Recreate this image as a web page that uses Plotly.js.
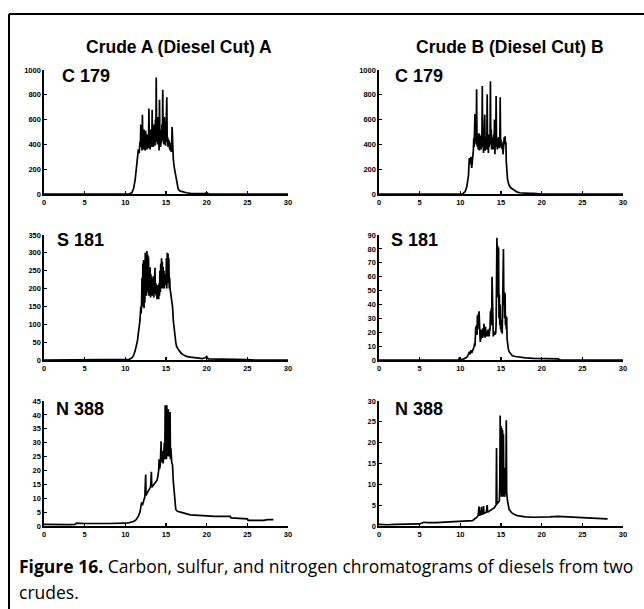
<!DOCTYPE html>
<html>
<head>
<meta charset="utf-8">
<script src="https://cdn.plot.ly/plotly-3.0.1.min.js"></script>
<style>html,body{margin:0;padding:0;background:#fff;}#chart{width:644px;height:609px;}</style>
</head>
<body>
<div id="chart"></div>
<script>
// ---- Data: [retention time (min), detector response] ----
const carbonA = [[0,0],[5,0],[10,0],[10.5,2],[10.8,10],[11.0,40],[11.2,110],[11.4,220],[11.5,300],[11.6,360],[11.7,330],[11.8,420],[11.85,380],[11.9,560],[11.95,400],[12.0,470],[12.05,350],[12.1,640],[12.15,400],[12.2,450],[12.25,360],[12.3,520],[12.35,380],[12.4,420],[12.45,350],[12.5,510],[12.55,370],[12.6,440],[12.65,360],[12.7,480],[12.75,380],[12.8,420],[12.85,370],[12.9,690],[12.95,400],[13.0,460],[13.05,360],[13.1,520],[13.15,390],[13.2,440],[13.25,380],[13.3,680],[13.35,400],[13.4,470],[13.45,380],[13.5,560],[13.55,400],[13.6,460],[13.65,390],[13.7,600],[13.75,420],[13.8,940],[13.85,430],[13.9,500],[13.95,400],[14.0,620],[14.05,420],[14.1,480],[14.15,350],[14.2,760],[14.25,420],[14.3,480],[14.35,380],[14.4,520],[14.45,410],[14.5,560],[14.55,430],[14.6,840],[14.65,440],[14.7,500],[14.75,400],[14.8,620],[14.85,420],[14.9,470],[14.95,390],[15.0,600],[15.05,430],[15.1,780],[15.15,420],[15.2,460],[15.25,380],[15.3,440],[15.35,400],[15.4,430],[15.45,360],[15.5,410],[15.55,350],[15.6,400],[15.65,340],[15.7,390],[15.75,540],[15.8,360],[15.9,280],[16.0,220],[16.1,180],[16.2,170],[16.3,100],[16.4,60],[16.5,40],[16.7,25],[16.9,20],[17.1,18],[17.3,14],[17.5,10],[18,6],[18.5,5],[19,4],[19.5,3],[19.8,4],[20,10],[20.2,2],[21,0],[30,0]];

const carbonB = [[0,0],[5,0],[10,0],[10.3,2],[10.6,20],[10.8,60],[11.0,150],[11.1,290],[11.2,240],[11.3,300],[11.4,210],[11.5,280],[11.6,350],[11.65,450],[11.7,380],[11.75,520],[11.8,645],[11.85,420],[11.9,500],[11.95,400],[12.0,845],[12.05,420],[12.1,380],[12.15,480],[12.2,360],[12.25,460],[12.3,490],[12.35,350],[12.4,470],[12.45,380],[12.5,440],[12.55,360],[12.6,480],[12.65,400],[12.7,870],[12.75,380],[12.8,440],[12.85,330],[12.9,500],[12.95,380],[13.0,640],[13.05,350],[13.1,460],[13.15,380],[13.2,420],[13.25,360],[13.3,805],[13.35,380],[13.4,440],[13.45,330],[13.5,480],[13.55,380],[13.6,460],[13.65,400],[13.7,910],[13.75,420],[13.8,520],[13.85,360],[13.9,460],[13.95,380],[14.0,440],[14.05,360],[14.1,480],[14.15,400],[14.2,600],[14.25,320],[14.3,440],[14.35,380],[14.4,790],[14.45,400],[14.5,450],[14.55,360],[14.6,430],[14.65,380],[14.7,460],[14.75,370],[14.8,420],[14.85,380],[14.9,780],[14.95,400],[15.0,440],[15.05,370],[15.1,420],[15.15,360],[15.2,400],[15.25,320],[15.3,440],[15.35,380],[15.4,460],[15.45,400],[15.5,465],[15.55,400],[15.6,420],[15.65,260],[15.7,180],[15.8,120],[15.9,90],[16.0,70],[16.2,50],[16.4,40],[16.6,28],[16.8,20],[17.0,15],[17.3,10],[17.6,8],[18,6],[18.5,5],[19,5],[19.3,3],[19.6,1],[20,0],[30,0]];

const sulfurA = [[0,0],[5,0],[10,0],[10.5,2],[10.8,6],[11.0,12],[11.2,25],[11.35,38],[11.5,55],[11.6,75],[11.7,90],[11.8,110],[11.9,150],[11.95,130],[12.0,160],[12.05,230],[12.1,150],[12.15,270],[12.2,180],[12.25,280],[12.3,145],[12.35,260],[12.4,160],[12.45,300],[12.5,200],[12.55,290],[12.6,180],[12.65,305],[12.7,210],[12.75,295],[12.8,190],[12.85,290],[12.9,180],[12.95,250],[13.0,190],[13.05,260],[13.1,175],[13.15,240],[13.2,190],[13.25,230],[13.3,180],[13.35,210],[13.4,190],[13.45,235],[13.5,175],[13.55,220],[13.6,190],[13.65,258],[13.7,185],[13.75,215],[13.8,180],[13.85,205],[13.9,170],[13.95,210],[14.0,190],[14.05,200],[14.1,170],[14.15,215],[14.2,180],[14.25,250],[14.3,190],[14.35,270],[14.4,200],[14.45,285],[14.5,210],[14.55,275],[14.6,200],[14.65,260],[14.7,215],[14.75,250],[14.8,200],[14.85,240],[14.9,210],[14.95,235],[15.0,215],[15.05,285],[15.1,200],[15.15,300],[15.2,215],[15.25,298],[15.3,220],[15.35,285],[15.4,200],[15.45,230],[15.5,200],[15.6,185],[15.7,175],[15.8,150],[15.9,110],[16.0,95],[16.1,70],[16.2,50],[16.3,38],[16.5,30],[16.7,22],[16.9,18],[17.1,15],[17.5,10],[18,8],[18.5,6],[19,5],[19.5,4],[19.8,6],[20,10],[20.2,3],[21,3],[22,2],[23,2],[24,2],[24.8,3],[25,1],[26,0],[30,0]];

const sulfurB = [[0,0],[5,0],[9.8,0],[9.9,2],[10.0,0],[10.5,1],[10.8,2],[11.0,4],[11.1,6],[11.2,4],[11.3,7],[11.4,5],[11.5,6],[11.6,8],[11.7,10],[11.75,12],[11.8,10],[11.85,18],[11.9,24],[11.95,20],[12.0,25],[12.05,18],[12.1,32],[12.15,22],[12.2,33],[12.25,28],[12.3,35],[12.35,20],[12.4,14],[12.45,13],[12.5,18],[12.55,15],[12.6,22],[12.65,17],[12.7,21],[12.75,16],[12.8,23],[12.85,17],[12.9,26],[12.95,18],[13.0,22],[13.05,16],[13.1,24],[13.15,18],[13.2,21],[13.25,17],[13.3,20],[13.35,17],[13.4,22],[13.45,18],[13.5,19],[13.55,17],[13.6,23],[13.65,21],[13.7,35],[13.75,28],[13.8,37],[13.85,25],[13.9,60],[13.95,30],[14.0,18],[14.05,17],[14.1,19],[14.15,18],[14.2,20],[14.25,18],[14.3,21],[14.35,19],[14.4,26],[14.45,50],[14.5,88],[14.55,70],[14.6,82],[14.65,45],[14.7,81],[14.75,30],[14.8,47],[14.85,25],[14.9,40],[14.95,22],[15.0,29],[15.05,20],[15.1,24],[15.15,19],[15.2,50],[15.25,30],[15.3,80],[15.35,40],[15.4,49],[15.45,30],[15.5,48],[15.55,25],[15.6,32],[15.65,22],[15.7,31],[15.75,15],[15.8,12],[15.9,8],[16.0,6],[16.2,4],[16.4,3],[16.8,2.5],[17.3,2],[18,1.5],[19,1.2],[20,1.2],[21,1],[22,0.8],[22.3,0],[30,0]];

const nitrogenA = [[0,0.6],[1,0.5],[2,0.5],[3,0.5],[3.8,0.6],[4,1.0],[5,0.9],[6,0.8],[7,0.9],[8,0.9],[9,0.9],[10,1.0],[10.5,1.2],[11.0,1.6],[11.3,2.2],[11.6,3.5],[11.8,5],[11.9,7],[12.0,8.5],[12.1,7.5],[12.2,9],[12.3,9.5],[12.4,10.5],[12.45,13],[12.5,18.5],[12.55,11],[12.6,11.5],[12.7,12],[12.8,12.5],[12.9,13],[13.0,13.5],[13.1,14],[13.15,16],[13.2,19.5],[13.25,14.5],[13.3,14],[13.4,14.5],[13.5,15],[13.6,15],[13.7,15.5],[13.8,16],[13.9,16.5],[14.0,18],[14.1,20],[14.15,24],[14.2,20.5],[14.3,22],[14.35,26],[14.4,30.5],[14.45,23],[14.5,24],[14.6,27],[14.65,22.5],[14.7,26],[14.75,24],[14.8,30],[14.85,24],[14.9,43.5],[14.95,26],[15.0,35],[15.05,24],[15.1,43.5],[15.15,27],[15.2,38],[15.25,25],[15.3,42],[15.35,26],[15.4,40],[15.45,25],[15.5,41],[15.55,24],[15.6,28],[15.7,23],[15.8,22],[15.9,16],[16.0,12],[16.1,8],[16.2,6],[16.3,5.5],[16.5,5.2],[17,4.8],[17.5,4.4],[18,4.0],[19,3.8],[20,3.6],[21,3.5],[22,3.5],[22.9,3.5],[23,2.9],[24,2.8],[25,2.6],[25.1,2.0],[26,2.0],[27,2.0],[27.5,2.3],[28,2.2],[28.2,2.3]];

const nitrogenB = [[0,0.4],[1,0.3],[2,0.4],[3,0.4],[4,0.5],[5,0.5],[5.5,0.9],[6,0.8],[7,0.8],[8,0.9],[9,1.0],[10,1.0],[11,1.1],[11.5,1.3],[11.8,1.8],[12.0,2.0],[12.2,2.6],[12.3,4.7],[12.35,2.5],[12.5,2.8],[12.6,4.6],[12.65,2.7],[12.8,3.0],[12.85,4.8],[12.9,3.0],[13.0,3.1],[13.2,3.3],[13.3,5.0],[13.35,3.3],[13.5,3.5],[13.8,3.8],[14.0,4.0],[14.2,4.4],[14.3,4.8],[14.4,5.0],[14.45,18.7],[14.5,5.2],[14.6,5.5],[14.7,5.8],[14.8,6],[14.85,10],[14.9,26.5],[14.95,8],[15.0,24],[15.05,7],[15.1,23.5],[15.15,7],[15.2,23],[15.25,7],[15.3,22],[15.35,7],[15.4,14],[15.45,7],[15.5,8],[15.6,10],[15.65,25.4],[15.7,8],[15.8,6],[16.0,4],[16.3,3.2],[16.6,2.8],[17,2.5],[18,2.2],[19,2.1],[20,2.1],[21,2.2],[22,2.3],[23,2.2],[24,2.2],[25,2.0],[26,1.9],[27,1.8],[28,1.7],[28.1,1.6]];

const xTicks = [0,5,10,15,20,25,30];
const yTicksC = [0,200,400,600,800,1000];
const yTicksSA = [0,50,100,150,200,250,300,350];
const yTicksSB = [0,10,20,30,40,50,60,70,80,90];
const yTicksNA = [0,5,10,15,20,25,30,35,40,45];
const yTicksNB = [0,5,10,15,20,25,30];

const columnTitles = ['Crude A (Diesel Cut) A', 'Crude B (Diesel Cut) B'];
const panelLabels = ['C 179', 'C 179', 'S 181', 'S 181', 'N 388', 'N 388'];
const captionLine1 = '<b>Figure 16.</b> Carbon, sulfur, and nitrogen chromatograms of diesels from two';
const captionLine2 = 'crudes.';

// ---- Layout geometry (paper fractions) ----
const W = 644, H = 609;
const px = v => v / W;
const py = v => 1 - v / H;
const colDom = [[px(44), px(288)], [px(379), px(623)]];
const rowDom = [[py(194), py(70)], [py(360), py(235)], [py(526), py(401)]];

const series = [carbonA, carbonB, sulfurA, sulfurB, nitrogenA, nitrogenB];
const yTickSets = [yTicksC, yTicksC, yTicksSA, yTicksSB, yTicksNA, yTicksNB];
const yMax = [1000, 1000, 350, 90, 45, 30];

const tickFont = {family: 'Liberation Sans, Arial, sans-serif', size: 7.5, color: '#000', weight: 'bold'};

const traces = [];
const layout = {
  width: W, height: H, autosize: false,
  margin: {l: 0, r: 0, t: 0, b: 0},
  paper_bgcolor: '#fff', plot_bgcolor: '#fff',
  showlegend: false,
  annotations: [], shapes: []
};

series.forEach((s, i) => {
  const n = i + 1;
  const sfx = n === 1 ? '' : String(n);
  traces.push({
    x: s.map(p => p[0]), y: s.map(p => p[1]),
    xaxis: 'x' + sfx, yaxis: 'y' + sfx,
    type: 'scatter', mode: 'lines',
    line: {color: '#000', width: 1.7},
    hoverinfo: 'skip'
  });
  const col = i % 2, row = Math.floor(i / 2);
  layout['xaxis' + sfx] = {
    domain: colDom[col], anchor: 'y' + sfx, range: [0, 30],
    tickmode: 'array', tickvals: xTicks, ticktext: xTicks.map(String),
    showline: true, linecolor: '#000', linewidth: 1.6,
    ticks: 'inside', ticklen: 3, tickwidth: 1.2, tickcolor: '#000',
    showgrid: false, zeroline: false, tickfont: tickFont, fixedrange: true
  };
  layout['yaxis' + sfx] = {
    domain: rowDom[row], anchor: 'x' + sfx, range: [0, yMax[i]],
    tickmode: 'array', tickvals: yTickSets[i], ticktext: yTickSets[i].map(String),
    showline: true, linecolor: '#000', linewidth: 1.6,
    ticks: 'inside', ticklen: 3, tickwidth: 1.2, tickcolor: '#000',
    showgrid: false, zeroline: false, tickfont: tickFont, fixedrange: true
  };
});

// Column titles
const titleX = [px(179), px(510)];
columnTitles.forEach((t, i) => {
  layout.annotations.push({
    xref: 'paper', yref: 'paper', x: titleX[i], y: py(47),
    xanchor: 'center', yanchor: 'middle', showarrow: false, text: '<b>' + t + '</b>',
    font: {family: 'Liberation Sans, Arial, sans-serif', size: 17.5, color: '#000'}
  });
});

// Panel labels
const labelPos = [[60, 76], [393, 76], [55, 240], [389, 240], [54, 409], [393, 409]];
panelLabels.forEach((t, i) => {
  layout.annotations.push({
    xref: 'paper', yref: 'paper', x: px(labelPos[i][0]), y: py(labelPos[i][1]),
    xanchor: 'left', yanchor: 'middle', showarrow: false, text: '<b>' + t + '</b>',
    font: {family: 'Liberation Sans, Arial, sans-serif', size: 18, color: '#000'}
  });
});

// Caption
layout.annotations.push({
  xref: 'paper', yref: 'paper', x: px(17), y: py(566),
  xanchor: 'left', yanchor: 'middle', showarrow: false, text: captionLine1,
  font: {family: 'Open Sans, sans-serif', size: 17.5, color: '#000'}
});
layout.annotations.push({
  xref: 'paper', yref: 'paper', x: px(17), y: py(592),
  xanchor: 'left', yanchor: 'middle', showarrow: false, text: captionLine2,
  font: {family: 'Open Sans, sans-serif', size: 17.5, color: '#000'}
});

// Figure frame (top and left rules)
layout.shapes.push({type: 'line', xref: 'paper', yref: 'paper', x0: px(9), x1: 1, y0: py(14), y1: py(14), line: {color: '#000', width: 2}});
layout.shapes.push({type: 'line', xref: 'paper', yref: 'paper', x0: px(9), x1: px(9), y0: py(14), y1: 0, line: {color: '#000', width: 2}});

Plotly.newPlot('chart', traces, layout, {staticPlot: true, displayModeBar: false});
</script>
</body>
</html>
